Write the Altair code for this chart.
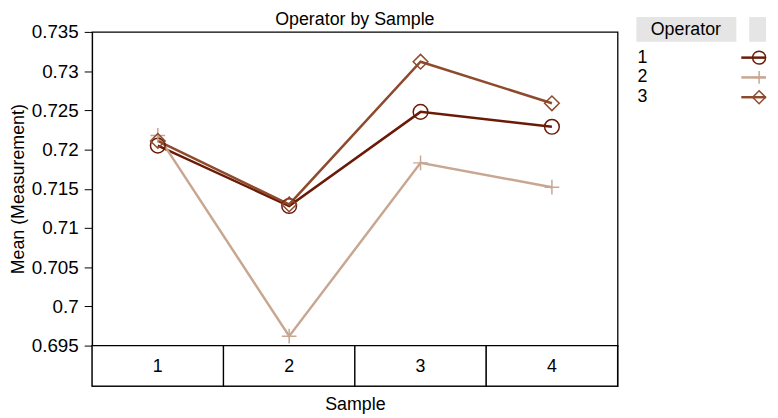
import altair as alt
import pandas as pd

samples = ["1", "2", "3", "4"]
operators = ["1", "2", "3"]
op1_means = [0.7205, 0.7128, 0.7248, 0.7229]
op2_means = [0.7218, 0.6962, 0.7183, 0.7152]
op3_means = [0.7211, 0.7130, 0.7312, 0.7259]
y_ticks = [0.695, 0.70, 0.705, 0.71, 0.715, 0.72, 0.725, 0.73, 0.735]

colors = ["#6A1B07", "#C8A791", "#8E4A2C"]
shapes = ["circle", "M-1,0L1,0M0,-1L0,1", "diamond"]
FONT = "Liberation Sans"
FS = 18

rows = []
for op, vals in zip(operators, [op1_means, op2_means, op3_means]):
    for s, v in zip(samples, vals):
        rows.append({"Operator": op, "Sample": s, "Mean": v})
df = pd.DataFrame(rows)

color_scale = alt.Scale(domain=operators, range=colors)
shape_scale = alt.Scale(domain=operators, range=shapes)

x_main = alt.X("Sample:N", scale=alt.Scale(domain=samples), axis=None)
y_main = alt.Y(
    "Mean:Q",
    scale=alt.Scale(domain=[0.695, 0.735], nice=False, zero=False),
    axis=alt.Axis(
        title="Mean (Measurement)", values=y_ticks, format=".3~f", grid=False,
        tickSize=8, labelPadding=6, titlePadding=4,
        labelFontSize=19, titleFontSize=FS, titleFontWeight="normal",
        domainColor="black", tickColor="black", labelColor="black", titleColor="black",
        labelFont=FONT, titleFont=FONT,
    ),
)

lines = alt.Chart(df).mark_line(strokeWidth=2.5).encode(
    x=x_main, y=y_main,
    color=alt.Color("Operator:N", scale=color_scale, legend=None),
    detail="Operator:N",
)
points = alt.Chart(df).mark_point(filled=False, strokeWidth=1.5, opacity=1, size=220).encode(
    x=x_main, y=y_main,
    color=alt.Color("Operator:N", scale=color_scale, legend=None),
    shape=alt.Shape("Operator:N", scale=shape_scale, legend=None),
)

main = alt.layer(lines, points).properties(
    width=531, height=317,
    title=alt.TitleParams("Operator by Sample", fontSize=FS, fontWeight="normal",
                          font=FONT, color="black", offset=-6, anchor="middle",
                          frame="group"),
)

# Table of samples beneath the plot
table_df = pd.DataFrame({"Sample": samples})
x_tab = alt.X("Sample:N", scale=alt.Scale(domain=samples, paddingInner=0, paddingOuter=0),
              axis=alt.Axis(title="Sample", labels=False, ticks=False, domain=False,
                            titleFontSize=FS, titleFontWeight="normal", titleFont=FONT,
                            titleColor="black", titlePadding=10, labelPadding=0))
cells = alt.Chart(table_df).mark_rect(fill="white", stroke="black", strokeWidth=1.3).encode(
    x=x_tab, y=alt.value(0), y2=alt.value("height"))
cell_text = alt.Chart(table_df).mark_text(fontSize=FS, font=FONT, color="black", baseline="middle").encode(
    x=x_tab, y=alt.value(22), text="Sample:N")
table = alt.layer(cells, cell_text).properties(width=531, height=41)

# Custom legend (origin aligned with the plot's top edge)
leg_df = pd.DataFrame({"Operator": operators, "Op": [int(o) for o in operators]})
hdr_df = pd.DataFrame({"t": ["Operator"]})
y_leg = alt.Y("Op:Q", scale=alt.Scale(domain=[1, 3], range=[26, 66], nice=False, zero=False), axis=None)
hdr1 = alt.Chart(hdr_df).mark_rect(fill="#E5E5E5").encode(
    x=alt.value(0), x2=alt.value(101), y=alt.value(-15), y2=alt.value(10))
hdr2 = alt.Chart(hdr_df).mark_rect(fill="#E5E5E5").encode(
    x=alt.value(114), x2=alt.value(131), y=alt.value(-15), y2=alt.value(10))
hdr_text = alt.Chart(hdr_df).mark_text(fontSize=FS, font=FONT, color="black", baseline="middle").encode(
    x=alt.value(50), y=alt.value(-2), text="t:N")
leg_text = alt.Chart(leg_df).mark_text(fontSize=FS, font=FONT, color="black", align="left", baseline="middle").encode(
    x=alt.value(1), y=y_leg, text="Operator:N")
leg_rule = alt.Chart(leg_df).mark_rule(strokeWidth=2.5).encode(
    x=alt.value(106), x2=alt.value(131), y=y_leg,
    color=alt.Color("Operator:N", scale=color_scale, legend=None))
leg_pts = alt.Chart(leg_df).mark_point(filled=False, strokeWidth=1.5, opacity=1, size=170).encode(
    x=alt.value(124), y=y_leg,
    color=alt.Color("Operator:N", scale=color_scale, legend=None),
    shape=alt.Shape("Operator:N", scale=shape_scale, legend=None))
legend = alt.layer(hdr1, hdr2, hdr_text, leg_text, leg_rule, leg_pts).properties(
    width=131, height=70, view=alt.ViewBackground(stroke="transparent"))

left = alt.vconcat(main, table, spacing=0, bounds="flush")
chart = alt.hconcat(left, legend, spacing=16).properties(
    padding={"left": 0, "top": 0, "right": 0, "bottom": 0}
).configure(font=FONT).configure_view(stroke="black", strokeWidth=1.3)

chart.save("out.html", embed_options={"renderer": "svg", "actions": False})
